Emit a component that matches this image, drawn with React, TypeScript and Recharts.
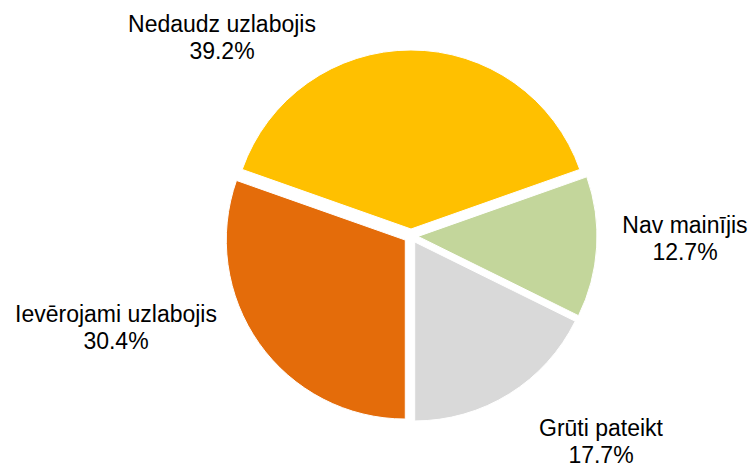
import { PieChart, Pie, Cell, Sector } from 'recharts';

const categories = ['Ievērojami uzlabojis', 'Nedaudz uzlabojis', 'Nav mainījis', 'Grūti pateikt'];
const shares = [30.4, 39.2, 12.7, 17.7];
const colors = ['#E46C0A', '#FFC000', '#C3D69B', '#D9D9D9'];

const data = categories.map((name, i) => ({ name, value: shares[i] }));

const RADIAN = Math.PI / 180;
const EXPLODE = 7;

// label anchor relative to pie centre: [x centre, first baseline]
const labelOffsets: Record<string, [number, number]> = {
  'Ievērojami uzlabojis': [-295, 86],
  'Nedaudz uzlabojis': [-189, -204],
  'Nav mainījis': [274, -3],
  'Grūti pateikt': [190, 200],
};

function ExplodedSlice(props: any) {
  const { cx, cy, midAngle } = props;
  const dx = EXPLODE * Math.cos(-midAngle * RADIAN);
  const dy = EXPLODE * Math.sin(-midAngle * RADIAN);
  return <Sector {...props} cx={cx + dx} cy={cy + dy} />;
}

function renderLabel(props: any) {
  const { cx, cy, name, value } = props;
  const [dx, dy] = labelOffsets[name] ?? [0, 0];
  const x = cx + dx;
  return (
    <text
      x={x}
      y={cy + dy}
      textAnchor="middle"
      fill="#000"
      fontFamily="'Liberation Sans', Arial, sans-serif"
      fontSize={23}
    >
      <tspan x={x} dy={0}>{name}</tspan>
      <tspan x={x} dy={27}>{`${value.toFixed(1)}%`}</tspan>
    </text>
  );
}

export default function App() {
  return (
    <div style={{ position: 'absolute', left: 0, top: 0, width: 755, height: 463, background: '#fff' }}>
      <PieChart width={755} height={463} margin={{ top: 0, right: 0, bottom: 0, left: 0 }}>
        <Pie
          data={data}
          dataKey="value"
          nameKey="name"
          cx={411}
          cy={236}
          outerRadius={179}
          startAngle={-90}
          endAngle={-450}
          stroke="#fff"
          strokeWidth={1}
          label={renderLabel}
          labelLine={false}
          shape={ExplodedSlice}
          activeShape={ExplodedSlice}
          inactiveShape={ExplodedSlice}
          isAnimationActive={false}
        >
          {data.map((d, i) => (
            <Cell key={d.name} fill={colors[i]} />
          ))}
        </Pie>
      </PieChart>
    </div>
  );
}
